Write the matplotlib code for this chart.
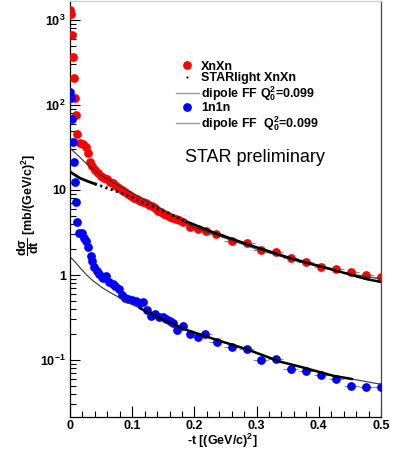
import numpy as np
import matplotlib
matplotlib.use("Agg")
import matplotlib.pyplot as plt
from matplotlib.lines import Line2D
from matplotlib.ticker import LogLocator, NullFormatter, MultipleLocator

plt.rcParams['font.family'] = ['Liberation Sans', 'DejaVu Sans']
plt.rcParams['mathtext.fontset'] = 'custom'
plt.rcParams['mathtext.rm'] = 'Liberation Sans'
plt.rcParams['mathtext.it'] = 'Liberation Sans:italic'
plt.rcParams['mathtext.bf'] = 'Liberation Sans:bold'
plt.rcParams['mathtext.sf'] = 'Liberation Sans'

# ---- data: XnXn ----
t_xnxn = [0.0008, 0.0016, 0.0037, 0.0053, 0.0064, 0.008, 0.0092, 0.0117, 0.016, 0.021,
          0.026, 0.029, 0.032, 0.035, 0.040, 0.045, 0.050, 0.055, 0.059, 0.064,
          0.069, 0.074, 0.079, 0.084, 0.088, 0.093, 0.098, 0.103, 0.108, 0.113,
          0.117, 0.122, 0.127, 0.132, 0.137, 0.141, 0.146, 0.151, 0.156, 0.161,
          0.166, 0.170, 0.175, 0.182, 0.193, 0.206, 0.219, 0.235, 0.260, 0.285,
          0.307, 0.331, 0.355, 0.379, 0.404, 0.428, 0.452, 0.476, 0.500]
y_xnxn = [1312, 1176, 665, 367, 208, 121, 76, 45.6, 35.7, 34.8,
          32.0, 27.3, 21.3, 19.1, 17.2, 15.8, 14.6, 13.8, 13.5, 12.4,
          12.1, 11.1, 10.6, 10.0, 9.47, 8.97, 8.5, 8.05, 7.84, 7.43,
          7.23, 7.03, 6.66, 6.48, 6.14, 5.66, 5.51, 5.22, 5.08, 4.81,
          4.69, 4.56, 4.44, 4.2, 3.67, 3.48, 3.29, 3.03, 2.51, 2.38,
          1.97, 1.87, 1.58, 1.42, 1.24, 1.18, 1.08, 1.0, 0.946]

# ---- data: 1n1n ----
t_1n1n = [0.0, 0.001, 0.004, 0.005, 0.006, 0.008, 0.009, 0.012, 0.014, 0.019,
          0.0225, 0.026, 0.029, 0.033, 0.036, 0.039, 0.043, 0.047, 0.051, 0.0535,
          0.058, 0.063, 0.069, 0.072, 0.078, 0.083, 0.088, 0.094, 0.099, 0.106,
          0.1125, 0.118, 0.124, 0.130, 0.137, 0.143, 0.149, 0.155, 0.161, 0.166,
          0.1725, 0.181, 0.193, 0.205, 0.217, 0.236, 0.260, 0.284, 0.307, 0.331,
          0.355, 0.379, 0.404, 0.428, 0.452, 0.476, 0.500]
y_1n1n = [142, 121, 68.4, 36.7, 21.3, 12.4, 7.23, 4.2, 3.12, 3.12,
          2.72, 2.51, 2.13, 1.67, 1.46, 1.24, 1.11, 1.03, 0.946, 0.922,
          0.973, 0.828, 0.784, 0.743, 0.684, 0.582, 0.536, 0.522, 0.508, 0.494,
          0.469, 0.481, 0.388, 0.33, 0.348, 0.321, 0.321, 0.304, 0.288, 0.272,
          0.225, 0.251, 0.202, 0.187, 0.202, 0.163, 0.142, 0.135, 0.1, 0.103,
          0.078, 0.074, 0.0667, 0.0598, 0.0494, 0.048, 0.048]

# ---- STARlight XnXn ----
t_star = [0.0, 0.008, 0.016, 0.028, 0.040, 0.064, 0.091, 0.145, 0.188, 0.233, 0.289, 0.354, 0.418, 0.476, 0.500]
y_star = [16.4, 15.0, 13.8, 12.7, 11.8, 10.3, 8.73, 5.82, 4.24, 3.12, 2.25, 1.58, 1.18, 0.897, 0.828]

# ---- dipole FF fits ----
t_fit_x = [0.0, 0.008, 0.016, 0.024, 0.032, 0.0535, 0.091, 0.145, 0.198, 0.252, 0.304, 0.370, 0.434, 0.500]
y_fit_x = [31.0, 27.5, 24.3, 21.2, 18.8, 14.3, 10.0, 6.14, 3.67, 2.67, 1.97, 1.42, 1.08, 0.897]
t_fit_1 = [0.0, 0.008, 0.016, 0.0268, 0.0375, 0.0509, 0.064, 0.083, 0.099, 0.1125, 0.129, 0.145,
           0.188, 0.236, 0.284, 0.338, 0.370, 0.423, 0.453, 0.500]
y_fit_1 = [1.64, 1.43, 1.22, 1.0, 0.85, 0.716, 0.625, 0.526, 0.452, 0.406, 0.354, 0.31,
           0.225, 0.172, 0.134, 0.0955, 0.0834, 0.0653, 0.0598, 0.0518]

xtick_vals = [0, 0.1, 0.2, 0.3, 0.4, 0.5]
xtick_labels = ['0', '0.1', '0.2', '0.3', '0.4', '0.5']
ytick_vals = [0.1, 1, 10, 100, 1000]
ytick_labels = [r'$\mathbf{10^{-1}}$', '1', '10', r'$\mathbf{10^{2}}$', r'$\mathbf{10^{3}}$']

fig = plt.figure(figsize=(3.99, 4.54), dpi=100)
ax = fig.add_axes([70/399, 37/454, 311/399, 416.5/454])

tx = np.array(t_xnxn); yx = np.array(y_xnxn)
t1 = np.array(t_1n1n); y1 = np.array(y_1n1n)
errx = np.where(tx > 0.2, 0.012, 0.0)
err1 = np.where(t1 > 0.2, 0.012, 0.0)

ax.errorbar(tx, yx, xerr=errx, fmt='o', color='#ff0000', ecolor='#888888', elinewidth=0.8,
            markersize=6.3, markeredgewidth=0, zorder=3)
ax.errorbar(t1, y1, xerr=err1, fmt='o', color='#0000ff', ecolor='#888888', elinewidth=0.8,
            markersize=6.3, markeredgewidth=0, zorder=3)

# fits: thin over full range, thick in fit range
tfx = np.array(t_fit_x); yfx = np.array(y_fit_x)
tf1 = np.array(t_fit_1); yf1 = np.array(y_fit_1)
ax.plot(tfx, yfx, color='#333333', lw=0.8, zorder=5)
ax.plot(tf1, yf1, color='#333333', lw=0.8, zorder=5)
m = (tf1 >= 0.11) & (tf1 <= 0.46)
ax.plot(tf1[m], yf1[m], color='black', lw=1.8, zorder=5)

# STARlight
ts = np.array(t_star); ys = np.array(y_star)
ax.plot(ts[ts <= 0.040], ys[ts <= 0.040], color='black', lw=2.0, zorder=6)
mm = (ts >= 0.040) & (ts <= 0.188)
ax.plot(ts[mm], ys[mm], color='black', lw=2.0, ls=(0, (0.8, 1.2)), zorder=6)
ax.plot(ts[ts >= 0.188], ys[ts >= 0.188], color='black', lw=1.8, zorder=6)

ax.set_xlim(0, 0.5)
ax.set_yscale('log')
ax.set_ylim(10**(3 - 397/85.0), 10**(3 + 19.5/85.0))

ax.set_xticks(xtick_vals)
ax.set_xticklabels(xtick_labels, fontsize=9, fontweight='bold')
ax.xaxis.set_minor_locator(MultipleLocator(0.02))
ax.set_yticks(ytick_vals)
ax.set_yticklabels(ytick_labels, fontsize=9, fontweight='bold')
ax.yaxis.set_minor_locator(LogLocator(base=10, subs=np.arange(2, 10)))
ax.yaxis.set_minor_formatter(NullFormatter())

ax.tick_params(which='major', direction='in', length=7, width=0.8, top=False, right=False, pad=3)
ax.tick_params(which='minor', direction='in', length=4, width=0.8, top=False, right=False)
ax.tick_params(axis='x', which='major', length=8, pad=2)
for s in ax.spines.values():
    s.set_linewidth(0.9)
ax.spines['top'].set_color('#cccccc')
ax.spines['right'].set_color('#444444')

fig.text(222/399, 1 - 441/454, r'-t [(GeV/c)$^{\mathbf{2}}$]', fontsize=9, fontweight='bold',
         ha='center', va='center')
fig.text(28/399, 1 - 205/454, r'$\mathbf{\dfrac{d\sigma}{dt}}$ [mb/(GeV/c)$^{\mathbf{2}}$]', fontsize=9,
         fontweight='bold', rotation=90, ha='center', va='center')

handles = [
    Line2D([], [], ls='none', marker='o', color='#ff0000', markersize=6.3, markeredgewidth=0),
    Line2D([], [], ls='none', marker='o', color='black', markersize=1.5, markeredgewidth=0),
    Line2D([], [], color='#999999', lw=1.0),
    Line2D([], [], ls='none', marker='o', color='#0000ff', markersize=6.3, markeredgewidth=0),
    Line2D([], [], color='#999999', lw=1.0),
]
labels = ['XnXn', 'STARlight XnXn', r'dipole FF Q$_{\mathbf{0}}^{\mathbf{2}}$=0.099', '1n1n',
          r'dipole FF  Q$_{\mathbf{0}}^{\mathbf{2}}$=0.099']
leg = ax.legend(handles, labels, loc='upper left', bbox_to_anchor=((176-70)/311, 1 - 60/416.5),
                frameon=False, prop={'size': 9, 'weight': 'bold'}, handlelength=1.8,
                handletextpad=0.2, labelspacing=-0.02, borderpad=0, borderaxespad=0)

ax.text((185-70)/311, 1 - 157/416.5, 'STAR preliminary', transform=ax.transAxes, fontsize=13,
        ha='left', va='center')

fig.savefig('out.png', dpi=100)
